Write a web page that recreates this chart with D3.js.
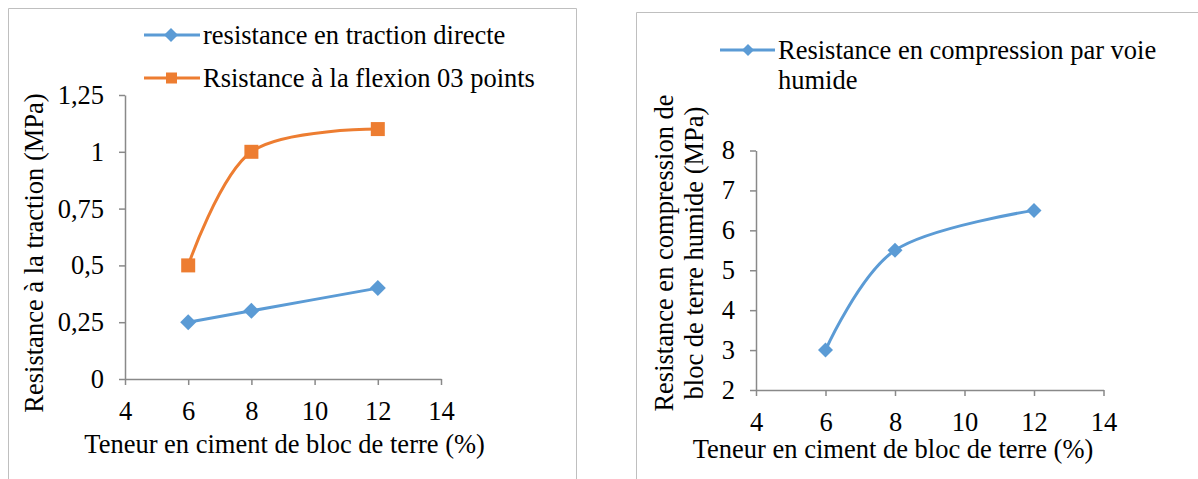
<!DOCTYPE html>
<html>
<head>
<meta charset="utf-8">
<script src="https://cdn.jsdelivr.net/npm/d3@7"></script>
<style>
  html, body { margin: 0; padding: 0; background: #fff; }
  svg { display: block; }
</style>
</head>
<body>
<svg id="chart" width="1198" height="479"></svg>
<script>
// ---- Data ----
const cementContent = [6, 8, 12];
const tractionDirecte = [0.25, 0.3, 0.4];
const flexion3Points = [0.5, 1.0, 1.1];
const compressionHumide = [3, 5.5, 6.5];

const xTickValues = [4, 6, 8, 10, 12, 14];
const leftYTickValues = [0, 0.25, 0.5, 0.75, 1, 1.25];
const leftYTickLabels = ["0", "0,25", "0,5", "0,75", "1", "1,25"];
const rightYTickValues = [2, 3, 4, 5, 6, 7, 8];

const seriesNames = ["resistance en traction directe", "Rsistance à la flexion 03 points"];
const rightSeriesName = ["Resistance en compression par voie", "humide"];
const xTitle = "Teneur en ciment de bloc de terre (%)";
const leftYTitle = "Resistance à la traction (MPa)";
const rightYTitle = ["Resistance en compression de", "bloc de terre humide (MPa)"];

const BLUE = "#5B9BD5", ORANGE = "#ED7D31", AXIS = "#898989", FRAME = "#BFBFBF";
const FONT = '"Liberation Serif", "Times New Roman", Tinos, serif';
const FS = "26.5px";

const svg = d3.select("#chart");
const styleText = sel => sel.style("font-family", FONT).style("font-size", FS).style("fill", "#000");
const addText = (parent, x, y, str, anchor) => styleText(parent.append("text")
  .attr("x", x).attr("y", y).attr("text-anchor", anchor || "start").text(str));

// ---- Frames ----
svg.append("path").attr("d", "M8.5,479 V8.5 H576.5 V479")
  .attr("fill", "none").attr("stroke", FRAME).attr("stroke-width", 1);
svg.append("path").attr("d", "M636.5,479 V12.5 H1198")
  .attr("fill", "none").attr("stroke", FRAME).attr("stroke-width", 1);

const curve = d3.curveCardinal.tension(0);
const diamond = s => `M0,${-s/2} L${s/2},0 L0,${s/2} L${-s/2},0 Z`;

function drawAxes(g, x, y, yTickVals, yTickFmt) {
  const xa = g.append("g").attr("transform", `translate(0,${y.range()[0]})`)
    .call(d3.axisBottom(x).tickValues(xTickValues).tickSize(6).tickSizeOuter(0).tickPadding(16));
  const ya = g.append("g").attr("transform", `translate(${x.range()[0]},0)`)
    .call(d3.axisLeft(y).tickValues(yTickVals).tickFormat(yTickFmt).tickSize(6).tickSizeOuter(0).tickPadding(15));
  [xa, ya].forEach(a => {
    a.attr("font-family", null).attr("font-size", null);
    a.select(".domain").attr("stroke", AXIS).attr("stroke-width", 1.5);
    a.selectAll(".tick line").attr("stroke", AXIS).attr("stroke-width", 1.5);
    styleText(a.selectAll(".tick text"));
  });
}

// ---- Left chart ----
{
  const x = d3.scaleLinear().domain([4, 14]).range([125, 441]);
  const y = d3.scaleLinear().domain([0, 1.25]).range([379, 95]);
  const g = svg.append("g");
  drawAxes(g, x, y, leftYTickValues, (d, i) => leftYTickLabels[i]);

  const line = d3.line().x(d => x(d[0])).y(d => y(d[1])).curve(curve);
  const s1 = cementContent.map((c, i) => [c, tractionDirecte[i]]);
  const s2 = cementContent.map((c, i) => [c, flexion3Points[i]]);

  g.append("path").attr("d", line(s2)).attr("fill", "none").attr("stroke", ORANGE).attr("stroke-width", 3);
  g.append("path").attr("d", line(s1)).attr("fill", "none").attr("stroke", BLUE).attr("stroke-width", 3);
  g.selectAll(".sq").data(s2).enter().append("rect")
    .attr("x", d => x(d[0]) - 7).attr("y", d => y(d[1]) - 7).attr("width", 14).attr("height", 14).attr("fill", ORANGE);
  g.selectAll(".dm").data(s1).enter().append("path")
    .attr("transform", d => `translate(${x(d[0])},${y(d[1])})`).attr("d", diamond(16)).attr("fill", BLUE);

  // legend
  const lg = svg.append("g");
  lg.append("line").attr("x1", 144).attr("x2", 200).attr("y1", 35).attr("y2", 35).attr("stroke", BLUE).attr("stroke-width", 3);
  lg.append("path").attr("transform", "translate(171,35)").attr("d", diamond(14)).attr("fill", BLUE);
  addText(lg, 203, 43.5, seriesNames[0]);
  lg.append("line").attr("x1", 144).attr("x2", 200).attr("y1", 78).attr("y2", 78).attr("stroke", ORANGE).attr("stroke-width", 3);
  lg.append("rect").attr("x", 166).attr("y", 72.5).attr("width", 11).attr("height", 11).attr("fill", ORANGE);
  addText(lg, 203, 87, seriesNames[1]);

  // titles
  addText(svg, 284.6, 453, xTitle, "middle");
  styleText(svg.append("text").attr("transform", "translate(43,253) rotate(-90)").attr("text-anchor", "middle").text(leftYTitle));
}

// ---- Right chart ----
{
  const x = d3.scaleLinear().domain([4, 14]).range([756, 1103.5]);
  const y = d3.scaleLinear().domain([2, 8]).range([390, 150.5]);
  const g = svg.append("g");
  drawAxes(g, x, y, rightYTickValues, d3.format("d"));

  const line = d3.line().x(d => x(d[0])).y(d => y(d[1])).curve(curve);
  const s = cementContent.map((c, i) => [c, compressionHumide[i]]);
  g.append("path").attr("d", line(s)).attr("fill", "none").attr("stroke", BLUE).attr("stroke-width", 3);
  g.selectAll(".dm").data(s).enter().append("path")
    .attr("transform", d => `translate(${x(d[0])},${y(d[1])})`).attr("d", diamond(15)).attr("fill", BLUE);

  const lg = svg.append("g");
  lg.append("line").attr("x1", 720).attr("x2", 775).attr("y1", 50).attr("y2", 50).attr("stroke", BLUE).attr("stroke-width", 3);
  lg.append("path").attr("transform", "translate(748,50)").attr("d", diamond(12)).attr("fill", BLUE);
  addText(lg, 778, 58.5, rightSeriesName[0]);
  addText(lg, 778, 88.5, rightSeriesName[1]);

  addText(svg, 893, 458, xTitle, "middle");
  styleText(svg.append("text").attr("transform", "translate(673,253) rotate(-90)").attr("text-anchor", "middle").text(rightYTitle[0]));
  styleText(svg.append("text").attr("transform", "translate(703,253) rotate(-90)").attr("text-anchor", "middle").text(rightYTitle[1]));
}
</script>
</body>
</html>
